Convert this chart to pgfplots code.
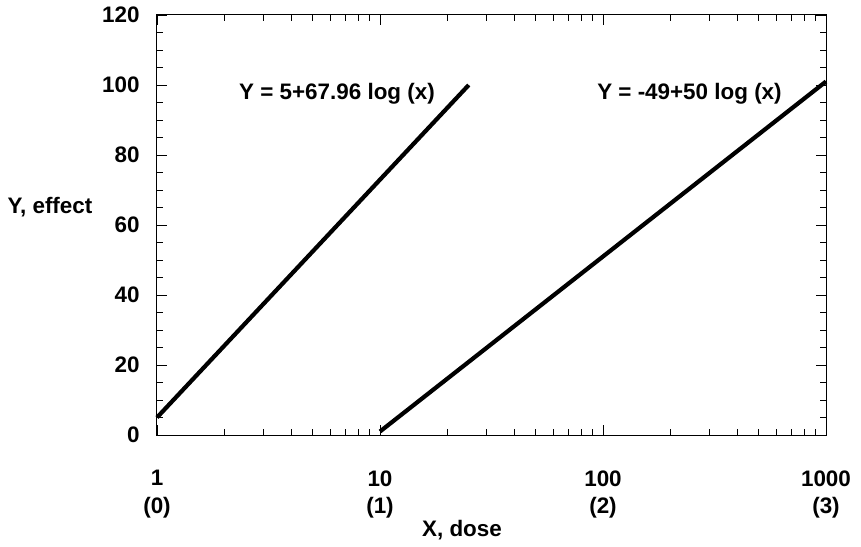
\documentclass[border=0pt]{standalone}
\usepackage{fontspec}
\setmainfont{Liberation Sans}
\usepackage{pgfplots}
\pgfplotsset{compat=1.18}
\begin{document}
\begin{tikzpicture}
\useasboundingbox (-157bp,-112bp) rectangle (704bp,435bp);
\begin{axis}[
  at={(0,0)}, anchor=south west,
  scale only axis, width=669bp, height=420bp,
  xmode=log, xmin=1, xmax=1000, ymin=0, ymax=120,
  log basis x=10,
  xtick={1,10,100,1000},
  xticklabels={{1\\[1.5bp](0)},{10\\[1.5bp](1)},{100\\[1.5bp](2)},{1000\\[1.5bp](3)}},
  minor xtick={2,3,4,5,6,7,8,9,20,30,40,50,60,70,80,90,200,300,400,500,600,700,800,900},
  ytick={0,20,...,120},
  minor y tick num=3,
  tick align=inside,
  major tick length=10bp, minor tick length=6bp,
  tick style={black, line width=0.8bp},
  axis line style={line width=1bp},
  /pgf/number format/assume math mode=true,
  ticklabel style={font=\fontsize{22.5}{26}\selectfont\bfseries},
  xticklabel style={align=center, yshift=-32bp},
  yticklabel style={xshift=-14bp},
  clip=false,
]
\addplot[black, line width=4.2bp] coordinates {(1,5) (25,100)};
\addplot[black, line width=4.2bp] coordinates {(10,1) (1000,101)};
\node[font=\fontsize{22.5}{26}\selectfont\bfseries, anchor=east, inner sep=0pt] at (axis cs:17.65,97.5) {Y = 5+67.96 log (x)};
\node[font=\fontsize{22.5}{26}\selectfont\bfseries, anchor=east, inner sep=0pt] at (axis cs:634,97.5) {Y = -49+50 log (x)};
\end{axis}
\node[font=\fontsize{22.5}{26}\selectfont\bfseries] at (305bp,-95bp) {X, dose};
\node[font=\fontsize{22.5}{26}\selectfont\bfseries] at (-107bp,228bp) {Y, effect};
\end{tikzpicture}
\end{document}
